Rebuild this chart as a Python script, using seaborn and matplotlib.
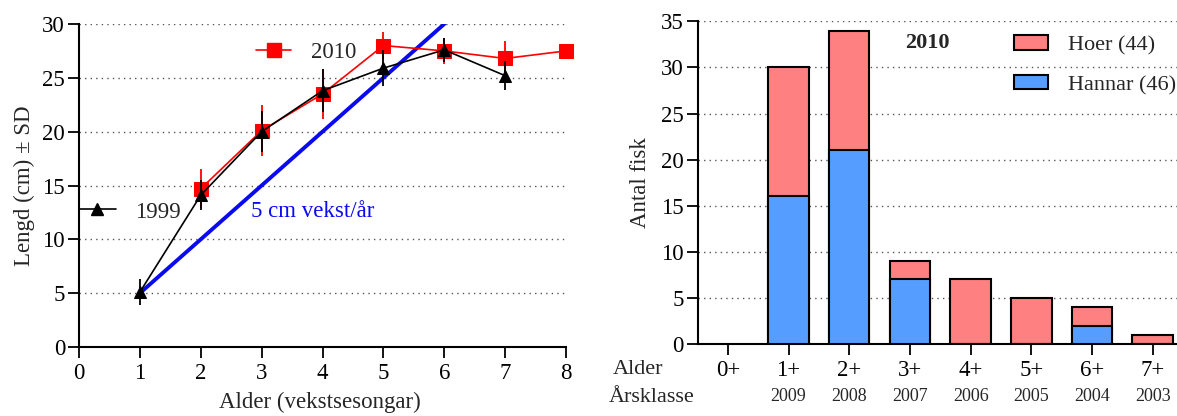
import matplotlib
matplotlib.use("Agg")
import matplotlib.pyplot as plt
import seaborn as sns
import pandas as pd
from matplotlib.lines import Line2D
from matplotlib.patches import Patch

# ---- Left panel data ----
age_2010 = [2, 3, 4, 5, 6, 7, 8]
len_2010 = [14.7, 20.1, 23.5, 28.0, 27.5, 26.8, 27.5]
sd_2010 = [1.8, 2.4, 2.3, 1.3, 1.2, 1.6, 0.0]

age_1999 = [1, 2, 3, 4, 5, 6, 7]
len_1999 = [5.1, 14.1, 20.0, 23.8, 25.9, 27.6, 25.2]
sd_1999 = [1.2, 1.4, 1.9, 2.0, 1.7, 1.1, 1.35]

growth_x = [1, 6]
growth_y = [5, 30]

# ---- Right panel data ----
alder = ["0+", "1+", "2+", "3+", "4+", "5+", "6+", "7+"]
arsklasse = ["", "2009", "2008", "2007", "2006", "2005", "2004", "2003"]
hannar = [0, 16, 21, 7, 0, 0, 2, 0]
hoer = [0, 14, 13, 2, 7, 5, 2, 1]

RED_FILL = "#FF8080"
BLUE_FILL = "#559EFF"

sns.set_style("white")
plt.rcParams["font.family"] = ["Liberation Serif", "DejaVu Serif"]

W, H = 1177, 416
fig = plt.figure(figsize=(W / 100, H / 100), dpi=100)
axL = fig.add_axes([79 / W, 1 - 347 / H, (566 - 79) / W, (347 - 24) / H])
axR = fig.add_axes([697.5 / W, 1 - 344 / H, (W - 697.5) / W, (344 - 21.3) / H])

FS = 16.5
TFS = 16.5
grid_kw = dict(linestyle=(0, (1, 3)), linewidth=1.0, color="#555555")

# ================= Left panel =================
d10 = pd.DataFrame({"x": age_2010, "y": len_2010})
d99 = pd.DataFrame({"x": age_1999, "y": len_1999})
gd = pd.DataFrame({"x": growth_x, "y": growth_y})

axL.set_xlim(0, 8)
axL.set_ylim(0, 30)
axL.set_yticks(range(0, 31, 5))
axL.set_xticks(range(0, 9))
for t in range(5, 31, 5):
    axL.axhline(t, zorder=0.5, **grid_kw)

sns.lineplot(data=gd, x="x", y="y", ax=axL, color="#0A0AF0", linewidth=2.8, zorder=2)

axL.errorbar(age_2010, len_2010, yerr=sd_2010, fmt="none", ecolor="red",
             elinewidth=1.3, capsize=0, zorder=3)
sns.lineplot(data=d10, x="x", y="y", ax=axL, color="red", linewidth=1.2,
             marker="s", markersize=10, markeredgecolor="red", zorder=3, clip_on=False)
axL.errorbar(age_1999, len_1999, yerr=sd_1999, fmt="none", ecolor="black",
             elinewidth=1.3, capsize=0, zorder=4)
sns.lineplot(data=d99, x="x", y="y", ax=axL, color="black", linewidth=1.2,
             marker="^", markersize=9, markeredgecolor="black", zorder=4, clip_on=False)

axL.text(2.825, 12.54, "5 cm vekst/år", color="#0A0AF0", fontsize=FS,
         va="center", ha="left")

h10 = Line2D([], [], color="red", lw=1.2, marker="s", markersize=10)
h99 = Line2D([], [], color="black", lw=1.2, marker="^", markersize=9)
leg1 = axL.legend([h10], ["2010"], loc="center left", bbox_to_anchor=(0.363, 0.913),
                  frameon=False, fontsize=FS, handlelength=1.55, handletextpad=0.85,
                  borderpad=0, borderaxespad=0)
axL.add_artist(leg1)
axL.legend([h99], ["1999"], loc="center left", bbox_to_anchor=(0.0, 0.418),
           frameon=False, fontsize=FS, handlelength=1.6, handletextpad=0.85,
           borderpad=0, borderaxespad=0)

axL.set_xlabel("Alder (vekstsesongar)", fontsize=FS)
axL.set_ylabel("Lengd (cm) ± SD", fontsize=FS)
axL.xaxis.set_label_coords(0.495, -0.138)
axL.yaxis.set_label_coords(-0.09, 0.5)

# ================= Right panel =================
dfb = pd.DataFrame({"alder": alder,
                    "total": [a + b for a, b in zip(hannar, hoer)],
                    "hannar": hannar})
axR.set_axisbelow(True)
for t in range(5, 36, 5):
    axR.axhline(t, zorder=0.5, **grid_kw)

sns.barplot(data=dfb, x="alder", y="total", ax=axR, color=RED_FILL, saturation=1,
            width=0.667, edgecolor="black", linewidth=1.5, zorder=2)
sns.barplot(data=dfb, x="alder", y="hannar", ax=axR, color=BLUE_FILL, saturation=1,
            width=0.667, edgecolor="black", linewidth=1.5, zorder=3)
for p in axR.patches:
    if p.get_height() == 0:
        p.set_visible(False)

axR.set_xlim(-0.5, 7.4)
axR.set_ylim(0, 35)
axR.set_yticks(range(0, 36, 5))
axR.set_xlabel("")
axR.set_ylabel("Antal fisk", fontsize=FS)
axR.yaxis.set_label_coords(-0.097, 0.5)

for i, yr in enumerate(arsklasse):
    if yr:
        axR.text(i, -0.163, yr, transform=axR.get_xaxis_transform(), ha="center",
                 va="center", fontsize=13)

fig.text(613 / W, 1 - 370 / H, "Alder", fontsize=16, ha="left", va="center")
fig.text(609 / W, 1 - 398 / H, "Årsklasse", fontsize=16, ha="left", va="center")

axR.text(0.48, 0.934, "2010", transform=axR.transAxes, fontsize=16,
         fontweight="bold", ha="center", va="center")

hh = [Patch(facecolor=RED_FILL, edgecolor="black", linewidth=1.5),
      Patch(facecolor=BLUE_FILL, edgecolor="black", linewidth=1.5)]
axR.legend(hh, ["Hoer (44)", "Hannar (46)"], loc="upper left",
           bbox_to_anchor=(0.66, 0.956), frameon=False, fontsize=16,
           handlelength=1.53, handleheight=0.62, handletextpad=0.9,
           labelspacing=0.88, borderpad=0, borderaxespad=0)

# ---- styling both axes ----
for ax in (axL, axR):
    sns.despine(ax=ax)
    for s in ("left", "bottom"):
        ax.spines[s].set_linewidth(1.5)
        ax.spines[s].set_color("black")
    ax.tick_params(axis="both", direction="out", length=8, width=1.3,
                   labelsize=TFS, colors="black", bottom=True, left=True)
    ax.tick_params(axis="y", pad=2)
    ax.tick_params(axis="x", pad=3.5)
    ax.grid(False)

fig.savefig("out.png", dpi=100)
